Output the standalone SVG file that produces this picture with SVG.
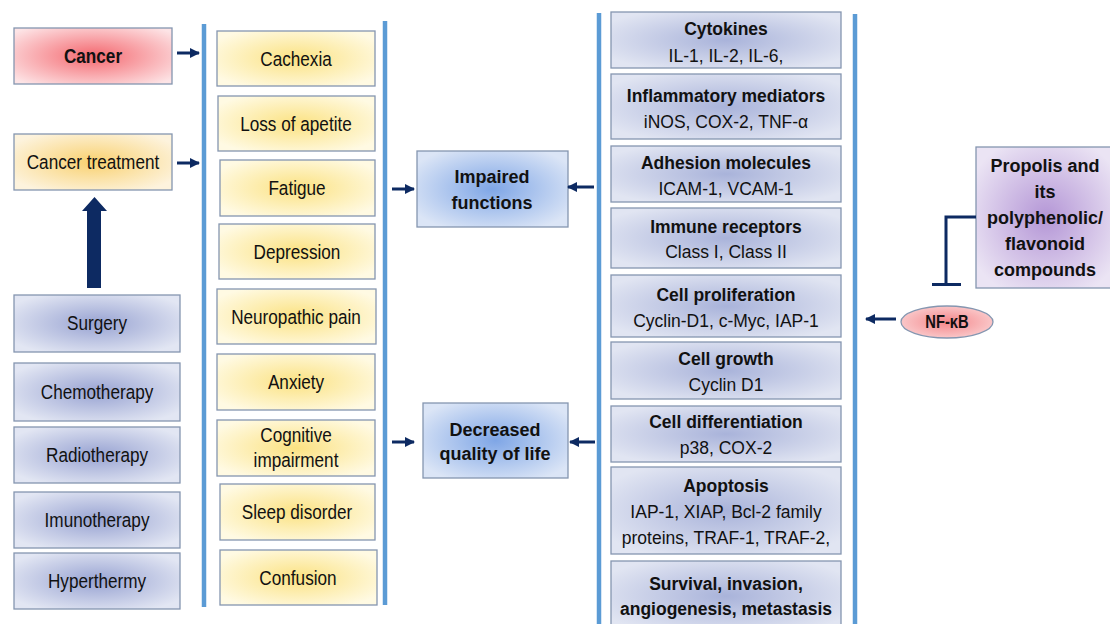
<svg xmlns="http://www.w3.org/2000/svg" width="1110" height="624" viewBox="0 0 1110 624">
<defs>
<radialGradient id="gY" cx="0.5" cy="0.5" r="0.6"><stop offset="0" stop-color="#fbe282"/><stop offset="1" stop-color="#fffae3"/></radialGradient>
<radialGradient id="gB" cx="0.5" cy="0.5" r="0.6"><stop offset="0" stop-color="#98a3d2"/><stop offset="1" stop-color="#e2e6f3"/></radialGradient>
<radialGradient id="gR" cx="0.5" cy="0.5" r="0.6"><stop offset="0" stop-color="#a9b3da"/><stop offset="1" stop-color="#e1e5f2"/></radialGradient>
<radialGradient id="gI" cx="0.5" cy="0.5" r="0.6"><stop offset="0" stop-color="#7fa6e6"/><stop offset="1" stop-color="#dbe5f6"/></radialGradient>
<radialGradient id="gC" cx="0.5" cy="0.5" r="0.65"><stop offset="0" stop-color="#f4686f"/><stop offset="1" stop-color="#fde4e6"/></radialGradient>
<radialGradient id="gT" cx="0.5" cy="0.5" r="0.6"><stop offset="0" stop-color="#f9d170"/><stop offset="1" stop-color="#fdf3dd"/></radialGradient>
<radialGradient id="gP" cx="0.5" cy="0.5" r="0.6"><stop offset="0" stop-color="#b496d6"/><stop offset="1" stop-color="#ebe4f4"/></radialGradient>
<radialGradient id="gN" cx="0.5" cy="0.5" r="0.6"><stop offset="0" stop-color="#f4868a"/><stop offset="1" stop-color="#fbd3d4"/></radialGradient>
<marker id="ah" viewBox="0 0 10 10" refX="9" refY="5" markerWidth="3.4" markerHeight="3.4" orient="auto" markerUnits="strokeWidth"><path d="M0,0 L10,5 L0,10 Z" fill="#0d2a62"/></marker>
<style>
rect.b{stroke:#8596b0;stroke-width:1.3}
text{font-family:"Liberation Sans",Arial,sans-serif;fill:#111;text-anchor:middle}
.n{font-size:19.5px;transform-box:fill-box;transform-origin:center;transform:scaleX(0.88)}
.nb{font-size:19.5px;font-weight:bold;transform-box:fill-box;transform-origin:center;transform:scaleX(0.88)}
.h{font-size:17.5px;font-weight:bold}
.r{font-size:17.5px}
.vl{stroke:#5b9bd5;stroke-width:4.5;fill:none}
.ar{stroke:#0d2a62;stroke-width:3;fill:none;marker-end:url(#ah)}
</style>
</defs>
<rect width="1110" height="624" fill="#ffffff"/>

<g id="bars">
<line class="vl" x1="204" y1="24" x2="204" y2="607"/>
<line class="vl" x1="385" y1="21" x2="385" y2="605"/>
<line class="vl" x1="599" y1="13" x2="599" y2="624"/>
<line class="vl" x1="855" y1="14" x2="855" y2="624"/>
</g>

<g id="cancer"><rect class="b" x="14" y="28" width="158" height="56" fill="url(#gC)"/><text class="nb" x="93" y="63">Cancer</text></g>
<g id="cancer-treatment"><rect class="b" x="14" y="134" width="158" height="56" fill="url(#gT)"/><text class="n" x="93" y="169">Cancer treatment</text></g>

<g id="surgery"><rect class="b" x="14" y="295" width="166" height="57" fill="url(#gB)"/><text class="n" x="97" y="330">Surgery</text></g>
<g id="chemotherapy"><rect class="b" x="14" y="363" width="166" height="58" fill="url(#gB)"/><text class="n" x="97" y="399">Chemotherapy</text></g>
<g id="radiotherapy"><rect class="b" x="14" y="427" width="166" height="56" fill="url(#gB)"/><text class="n" x="97" y="462">Radiotherapy</text></g>
<g id="imunotherapy"><rect class="b" x="14" y="492" width="166" height="56" fill="url(#gB)"/><text class="n" x="97" y="527">Imunotherapy</text></g>
<g id="hyperthermy"><rect class="b" x="14" y="553" width="166" height="56" fill="url(#gB)"/><text class="n" x="97" y="588">Hyperthermy</text></g>

<g id="cachexia"><rect class="b" x="217" y="31" width="158" height="55" fill="url(#gY)"/><text class="n" x="296" y="66">Cachexia</text></g>
<g id="loss-of-apetite"><rect class="b" x="218" y="96" width="157" height="55" fill="url(#gY)"/><text class="n" x="296" y="131">Loss of apetite</text></g>
<g id="fatigue"><rect class="b" x="220" y="160" width="155" height="56" fill="url(#gY)"/><text class="n" x="297" y="195">Fatigue</text></g>
<g id="depression"><rect class="b" x="219" y="224" width="156" height="55" fill="url(#gY)"/><text class="n" x="297" y="259">Depression</text></g>
<g id="neuropathic-pain"><rect class="b" x="217" y="289" width="159" height="55" fill="url(#gY)"/><text class="n" x="296" y="324">Neuropathic pain</text></g>
<g id="anxiety"><rect class="b" x="217" y="354" width="158" height="56" fill="url(#gY)"/><text class="n" x="296" y="389">Anxiety</text></g>
<g id="cognitive-impairment"><rect class="b" x="217" y="420" width="158" height="56" fill="url(#gY)"/><text class="n" x="296" y="442">Cognitive</text><text class="n" x="296" y="467">impairment</text></g>
<g id="sleep-disorder"><rect class="b" x="220" y="484" width="155" height="56" fill="url(#gY)"/><text class="n" x="297" y="519">Sleep disorder</text></g>
<g id="confusion"><rect class="b" x="220" y="550" width="157" height="55" fill="url(#gY)"/><text class="n" x="298" y="585">Confusion</text></g>

<g id="impaired-functions"><rect class="b" x="417" y="151" width="151" height="76" fill="url(#gI)"/><text class="h" style="font-size:18px" x="492" y="183">Impaired</text><text class="h" style="font-size:18px" x="492" y="209">functions</text></g>
<g id="decreased-quality"><rect class="b" x="423" y="403" width="145" height="75" fill="url(#gI)"/><text class="h" style="font-size:18px" x="495" y="436">Decreased</text><text class="h" style="font-size:18px" x="495" y="460">quality of life</text></g>

<g id="cytokines"><rect class="b" x="611" y="12" width="230" height="56" fill="url(#gR)"/><text class="h" x="726" y="35">Cytokines</text><text class="r" x="726" y="62">IL-1, IL-2, IL-6,</text></g>
<g id="inflammatory-mediators"><rect class="b" x="611" y="74" width="230" height="65" fill="url(#gR)"/><text class="h" x="726" y="102">Inflammatory mediators</text><text class="r" x="726" y="128">iNOS, COX-2, TNF-α</text></g>
<g id="adhesion-molecules"><rect class="b" x="611" y="146" width="230" height="56" fill="url(#gR)"/><text class="h" x="726" y="169">Adhesion molecules</text><text class="r" x="726" y="195">ICAM-1, VCAM-1</text></g>
<g id="immune-receptors"><rect class="b" x="611" y="208" width="230" height="60" fill="url(#gR)"/><text class="h" x="726" y="233">Immune receptors</text><text class="r" x="726" y="258">Class I, Class II</text></g>
<g id="cell-proliferation"><rect class="b" x="611" y="275" width="230" height="62" fill="url(#gR)"/><text class="h" x="726" y="301">Cell proliferation</text><text class="r" x="726" y="327">Cyclin-D1, c-Myc, IAP-1</text></g>
<g id="cell-growth"><rect class="b" x="611" y="342" width="230" height="57" fill="url(#gR)"/><text class="h" x="726" y="365">Cell growth</text><text class="r" x="726" y="391">Cyclin D1</text></g>
<g id="cell-differentiation"><rect class="b" x="611" y="406" width="230" height="56" fill="url(#gR)"/><text class="h" x="726" y="428">Cell differentiation</text><text class="r" x="726" y="454">p38, COX-2</text></g>
<g id="apoptosis"><rect class="b" x="611" y="467" width="230" height="87" fill="url(#gR)"/><text class="h" x="726" y="492">Apoptosis</text><text class="r" x="726" y="518">IAP-1, XIAP, Bcl-2 family</text><text class="r" x="726" y="544">proteins, TRAF-1, TRAF-2,</text></g>
<g id="survival"><rect class="b" x="611" y="561" width="230" height="70" fill="url(#gR)"/><text class="h" x="726" y="590">Survival, invasion,</text><text class="h" x="726" y="615">angiogenesis, metastasis</text></g>

<g id="propolis"><rect class="b" x="976" y="147" width="140" height="141" fill="url(#gP)"/><text class="h" style="font-size:18px" x="1045" y="172">Propolis and</text><text class="h" style="font-size:18px" x="1045" y="198">its</text><text class="h" style="font-size:18px" x="1045" y="224">polyphenolic/</text><text class="h" style="font-size:18px" x="1045" y="250">flavonoid</text><text class="h" style="font-size:18px" x="1045" y="276">compounds</text></g>
<g id="nfkb"><ellipse cx="947" cy="322" rx="46" ry="16" fill="url(#gN)" stroke="#8596b0" stroke-width="1.3"/><text class="nb" style="font-size:18px;transform:scaleX(0.82)" x="947" y="328.5">NF-κB</text></g>

<g id="connectors">
<line class="ar" x1="177" y1="53" x2="199" y2="53"/>
<line class="ar" x1="177" y1="163" x2="199" y2="163"/>
<line class="ar" x1="392" y1="189" x2="414" y2="189"/>
<line class="ar" x1="594" y1="187" x2="568" y2="187"/>
<line class="ar" x1="392" y1="442" x2="414" y2="442"/>
<line class="ar" x1="595" y1="442" x2="570" y2="442"/>
<line class="ar" x1="896" y1="319" x2="866" y2="319"/>
<path d="M87,288 L87,211 L82,211 L94.5,197 L107,211 L101,211 L101,288 Z" fill="#0d2a62"/>
<path d="M976,217 L946,217 L946,284" stroke="#0d2a62" stroke-width="3" fill="none"/>
<line x1="932" y1="284.5" x2="961" y2="284.5" stroke="#0d2a62" stroke-width="3"/>
</g>
</svg>
